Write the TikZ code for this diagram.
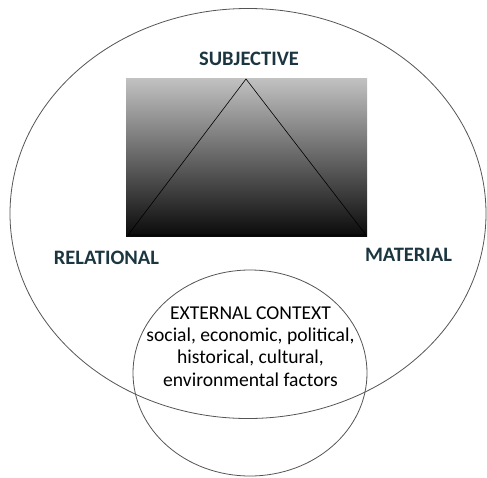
\documentclass[tikz,border=0pt]{standalone}
\usepackage{fontspec}
\setmainfont{Carlito}
\usetikzlibrary{shapes.geometric}
\definecolor{labelteal}{HTML}{1B3640}
\definecolor{ringgray}{HTML}{555555}
\tikzset{
  ring/.style={ellipse, draw=ringgray, line width=0.8pt, inner sep=0pt},
  pillar/.style={font=\fontsize{20.5}{24}\selectfont\bfseries, text=labelteal, inner sep=0pt, anchor=base},
  context/.style={font=\fontsize{19.6}{22.3}\selectfont, align=center, inner sep=0pt, anchor=base}
}
\begin{document}
\begin{tikzpicture}[x=1pt, y=-1pt]
  \useasboundingbox (0,0) rectangle (487,477);
  \fill[white] (0,0) rectangle (487,477);

  % outer ellipse and the external-context circle
  \node[ring, minimum width=476pt, minimum height=410pt] (outer) at (248,213.5) {};
  \node[ring, minimum width=234pt, minimum height=206pt] (inner) at (250,373) {};

  % shaded panel with the triangle
  \shade[top color=black!24, bottom color=black!96] (126,78) rectangle (367,236);
  \coordinate (apex) at (246,79);
  \coordinate (left) at (128,235);
  \coordinate (right) at (366,235);
  \draw[black, line width=0.6pt, line join=miter] (left) -- (apex) -- (right) -- cycle;

  % labels
  \node[pillar] (subj) at (249,65) {SUBJECTIVE};
  \node[pillar] (rel) at (106.5,264) {RELATIONAL};
  \node[pillar] (mat) at (408.5,261) {MATERIAL};

  % the anchor sits on the last line's baseline
  \node[context] (ctx) at (250.5,386) {EXTERNAL CONTEXT\\social, economic, political,\\historical, cultural,\\environmental factors};
\end{tikzpicture}
\end{document}
